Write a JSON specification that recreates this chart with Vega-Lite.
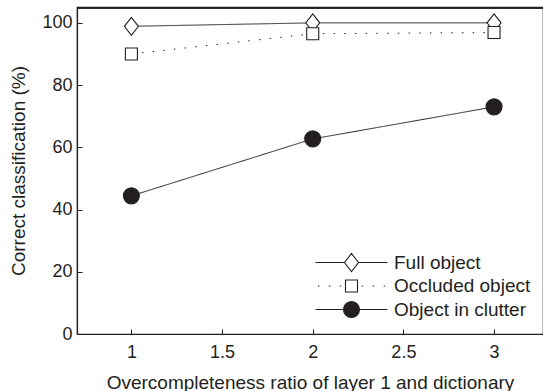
{
  "$schema": "https://vega.github.io/schema/vega-lite/v6.json",
  "width": 466,
  "height": 327,
  "autosize": {"type": "none"},
  "padding": {"left": 77, "top": 7, "right": 0, "bottom": 57},
  "background": "white",
  "config": {
    "view": {"stroke": "#231f20", "strokeWidth": 1.2},
    "font": "Liberation Sans",
    "axis": {
      "labelFont": "Liberation Sans",
      "titleFont": "Liberation Sans",
      "labelFontSize": 18,
      "titleFontSize": 19,
      "titleFontWeight": "normal",
      "labelColor": "#231f20",
      "titleColor": "#231f20",
      "domainColor": "#231f20",
      "tickColor": "#231f20",
      "tickWidth": 1,
      "grid": false,
      "domainWidth": 1.2
    },
    "legend": {
      "labelFont": "Liberation Sans",
      "labelFontSize": 19,
      "labelColor": "#231f20"
    }
  },
  "data": {
    "values": [
      {"ratio": 1, "accuracy": 98.9, "series": "Full object"},
      {"ratio": 2, "accuracy": 100, "series": "Full object"},
      {"ratio": 3, "accuracy": 100, "series": "Full object"},
      {"ratio": 1, "accuracy": 90.0, "series": "Occluded object"},
      {"ratio": 2, "accuracy": 96.5, "series": "Occluded object"},
      {"ratio": 3, "accuracy": 96.9, "series": "Occluded object"},
      {"ratio": 1, "accuracy": 44.4, "series": "Object in clutter"},
      {"ratio": 2, "accuracy": 62.7, "series": "Object in clutter"},
      {"ratio": 3, "accuracy": 73.0, "series": "Object in clutter"}
    ]
  },
  "layer": [
    {
      "mark": {"type": "line", "color": "#231f20", "strokeWidth": 1},
      "encoding": {
        "x": {
          "field": "ratio",
          "type": "quantitative",
          "scale": {"domain": [0.7, 3.27], "nice": false, "zero": false},
          "axis": {
            "values": [1, 1.5, 2, 2.5, 3],
            "format": "~g",
            "tickSize": -5,
            "labelPadding": 14,
            "title": "Overcompleteness ratio of layer 1 and dictionary",
            "titlePadding": 12
          }
        },
        "y": {
          "field": "accuracy",
          "type": "quantitative",
          "scale": {"domain": [0, 105.1], "nice": false},
          "axis": {
            "values": [0, 20, 40, 60, 80, 100],
            "tickSize": -5,
            "labelPadding": 10,
            "title": "Correct classification (%)",
            "titlePadding": 13
          }
        },
        "detail": {"field": "series"},
        "strokeDash": {
          "condition": {"test": "datum.series === 'Occluded object'", "value": [1.5, 9.2]},
          "value": [1, 0]
        }
      }
    },
    {
      "mark": {"type": "rule", "color": "#231f20", "strokeWidth": 1.2},
      "encoding": {
        "y": {"datum": 104.9, "type": "quantitative"}
      }
    },
    {
      "mark": {"type": "point", "filled": true, "stroke": "#231f20", "strokeWidth": 1.1, "opacity": 1},
      "encoding": {
        "x": {"field": "ratio", "type": "quantitative"},
        "y": {"field": "accuracy", "type": "quantitative"},
        "shape": {
          "condition": [
            {"test": "datum.series === 'Full object'", "value": "M-1,0L0,-1.286L1,0L0,1.286Z"},
            {"test": "datum.series === 'Occluded object'", "value": "square"}
          ],
          "value": "circle"
        },
        "fill": {
          "condition": {"test": "datum.series === 'Object in clutter'", "value": "#231f20"},
          "value": "white"
        },
        "size": {
          "condition": [
            {"test": "datum.series === 'Object in clutter'", "value": 256},
            {"test": "datum.series === 'Occluded object'", "value": 144}
          ],
          "value": 196
        }
      }
    },
    {
      "transform": [{"filter": "false"}],
      "mark": {"type": "point", "filled": true, "strokeWidth": 1.1},
      "encoding": {
        "x": {"field": "ratio", "type": "quantitative"},
        "y": {"field": "accuracy", "type": "quantitative"},
        "shape": {
          "field": "series",
          "type": "nominal",
          "scale": {
            "domain": ["Full object", "Occluded object", "Object in clutter"],
            "range": [
              "M-5.14,0H-1M1,0H5.14M-1,0L0,-1.286L1,0L0,1.286Z",
              "M-4.81,0h0.21M-3.24,0h0.21M-1.67,0h0.21M1.46,0h0.21M3.03,0h0.21M4.6,0h0.21M-0.857,-0.857H0.857V0.857H-0.857Z",
              "M-5.14,0H5.14M-1.143,0A1.143,1.143,0,1,0,1.143,0A1.143,1.143,0,1,0,-1.143,0Z"
            ]
          },
          "legend": {
            "title": null,
            "orient": "none",
            "legendX": 265,
            "legendY": 246,
            "padding": 0,
            "symbolSize": 196,
            "symbolStrokeWidth": 1.1,
            "symbolOpacity": 1,
            "labelOffset": 33,
            "rowPadding": 2.5
          }
        },
        "fill": {
          "field": "series",
          "type": "nominal",
          "scale": {
            "domain": ["Full object", "Occluded object", "Object in clutter"],
            "range": ["white", "white", "#231f20"]
          },
          "legend": {
            "title": null,
            "orient": "none",
            "legendX": 265,
            "legendY": 246,
            "padding": 0,
            "symbolSize": 196,
            "symbolStrokeWidth": 1.1,
            "symbolOpacity": 1,
            "labelOffset": 33,
            "rowPadding": 2.5
          }
        },
        "stroke": {
          "field": "series",
          "type": "nominal",
          "scale": {
            "domain": ["Full object", "Occluded object", "Object in clutter"],
            "range": ["#231f20", "#231f20", "#231f20"]
          },
          "legend": {
            "title": null,
            "orient": "none",
            "legendX": 265,
            "legendY": 246,
            "padding": 0,
            "symbolSize": 196,
            "symbolStrokeWidth": 1.1,
            "symbolOpacity": 1,
            "labelOffset": 33,
            "rowPadding": 2.5
          }
        }
      }
    }
  ]
}
